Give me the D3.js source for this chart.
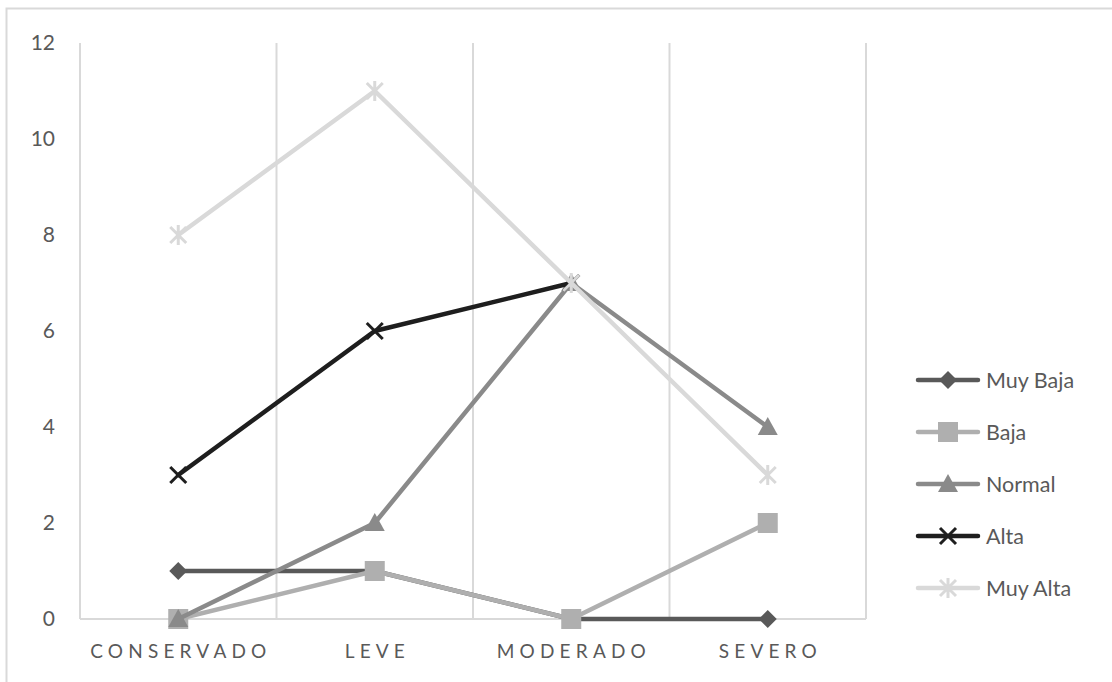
<!DOCTYPE html>
<html>
<head>
<meta charset="utf-8">
<script src="https://cdn.jsdelivr.net/npm/d3@7"></script>
<style>
  html, body { margin: 0; padding: 0; background: #fff; }
  svg { display: block; }
  text { font-family: "Lato", "Open Sans", sans-serif; }
</style>
</head>
<body>
<svg id="chart" width="1112" height="682"></svg>
<script>
// Categories (x axis) and one value array per series; null = no value
const categories = ["CONSERVADO", "LEVE", "MODERADO", "SEVERO"];
const muyBaja = [1, 1, 0, 0];
const baja    = [0, 1, 0, 2];
const normal  = [0, 2, 7, 4];
const alta    = [3, 6, 7, null];
const muyAlta = [8, 11, 7, 3];
const yTicks  = [0, 2, 4, 6, 8, 10, 12];

const series = [
  { name: "Muy Baja", values: muyBaja, color: "#595959", marker: "diamond" },
  { name: "Baja",     values: baja,    color: "#afafaf", marker: "square" },
  { name: "Normal",   values: normal,  color: "#8a8a8a", marker: "triangle" },
  { name: "Alta",     values: alta,    color: "#1e1e1e", marker: "x" },
  { name: "Muy Alta", values: muyAlta, color: "#d9d9d9", marker: "star" }
];

const svg = d3.select("#chart");
const plot = { left: 80, right: 866, top: 43, bottom: 619 };

// chart frame
svg.append("rect")
  .attr("x", 6.5).attr("y", 8.5)
  .attr("width", 1130).attr("height", 700)
  .attr("fill", "none").attr("stroke", "#d9d9d9").attr("stroke-width", 2);

const x = d3.scaleBand().domain(categories).range([plot.left, plot.right]);
const y = d3.scaleLinear().domain([0, 12]).range([plot.bottom, plot.top]);
const cx = c => x(c) + x.bandwidth() / 2;

// vertical gridlines at category boundaries
const bounds = categories.map(c => x(c)).concat([plot.right]);
svg.append("g").selectAll("line").data(bounds).join("line")
  .attr("x1", d => d).attr("x2", d => d)
  .attr("y1", plot.top).attr("y2", plot.bottom)
  .attr("stroke", "#d9d9d9").attr("stroke-width", 2);

// baseline
svg.append("line")
  .attr("x1", plot.left).attr("x2", plot.right)
  .attr("y1", y(0)).attr("y2", y(0))
  .attr("stroke", "#d9d9d9").attr("stroke-width", 2);

// y axis labels
const yAxis = d3.axisLeft(y).tickValues(yTicks).tickSize(0).tickPadding(0);
const gy = svg.append("g").attr("transform", `translate(${plot.left - 25},0)`).call(yAxis);
gy.select(".domain").remove();
gy.selectAll("text")
  .attr("fill", "#595959").style("font-size", "21px")
  .style("font-family", '"Lato", "Open Sans", sans-serif');

// x axis labels
const xAxis = d3.axisBottom(x).tickSize(0).tickPadding(0);
const gx = svg.append("g").attr("transform", `translate(0,${plot.bottom + 25})`).call(xAxis);
gx.select(".domain").remove();
gx.selectAll("text")
  .attr("fill", "#595959").style("font-size", "19px")
  .style("letter-spacing", "5.2px")
  .attr("dx", "2.6px")
  .style("font-family", '"Lato", "Open Sans", sans-serif');

// marker shapes
function drawMarker(g, type, px, py, color) {
  if (type === "diamond") {
    const s = 9;
    g.append("path").attr("d", `M${px},${py - s}L${px + s},${py}L${px},${py + s}L${px - s},${py}Z`)
      .attr("fill", color);
  } else if (type === "square") {
    g.append("rect").attr("x", px - 10).attr("y", py - 10)
      .attr("width", 20).attr("height", 20).attr("fill", color);
  } else if (type === "triangle") {
    g.append("path").attr("d", `M${px},${py - 10}L${px + 10},${py + 8}L${px - 10},${py + 8}Z`)
      .attr("fill", color);
  } else if (type === "x") {
    const s = 8;
    g.append("path").attr("d", `M${px - s},${py - s}L${px + s},${py + s}M${px + s},${py - s}L${px - s},${py + s}`)
      .attr("stroke", color).attr("stroke-width", 3).attr("fill", "none");
  } else if (type === "star") {
    const s = 8;
    g.append("path").attr("d",
      `M${px - s},${py - s}L${px + s},${py + s}M${px + s},${py - s}L${px - s},${py + s}M${px},${py - s - 2}L${px},${py + s + 2}`)
      .attr("stroke", color).attr("stroke-width", 3).attr("fill", "none");
  }
}

const line = d3.line()
  .defined(d => d.v !== null)
  .x(d => cx(d.c)).y(d => y(d.v));

series.forEach(s => {
  const pts = categories.map((c, i) => ({ c, v: s.values[i] }));
  const g = svg.append("g");
  g.append("path").datum(pts).attr("d", line)
    .attr("fill", "none").attr("stroke", s.color)
    .attr("stroke-width", 4.5).attr("stroke-linejoin", "round").attr("stroke-linecap", "round");
  pts.filter(p => p.v !== null).forEach(p => drawMarker(g, s.marker, cx(p.c), y(p.v), s.color));
});

// legend
const legend = svg.append("g");
series.forEach((s, i) => {
  const ly = 380 + i * 52;
  const g = legend.append("g");
  g.append("line").attr("x1", 918).attr("x2", 978).attr("y1", ly).attr("y2", ly)
    .attr("stroke", s.color).attr("stroke-width", 4.5).attr("stroke-linecap", "round");
  drawMarker(g, s.marker, 948, ly, s.color);
  g.append("text").attr("x", 986).attr("y", ly).attr("dy", "0.35em")
    .attr("fill", "#595959").style("font-size", "21.5px").text(s.name);
});
</script>
</body>
</html>
